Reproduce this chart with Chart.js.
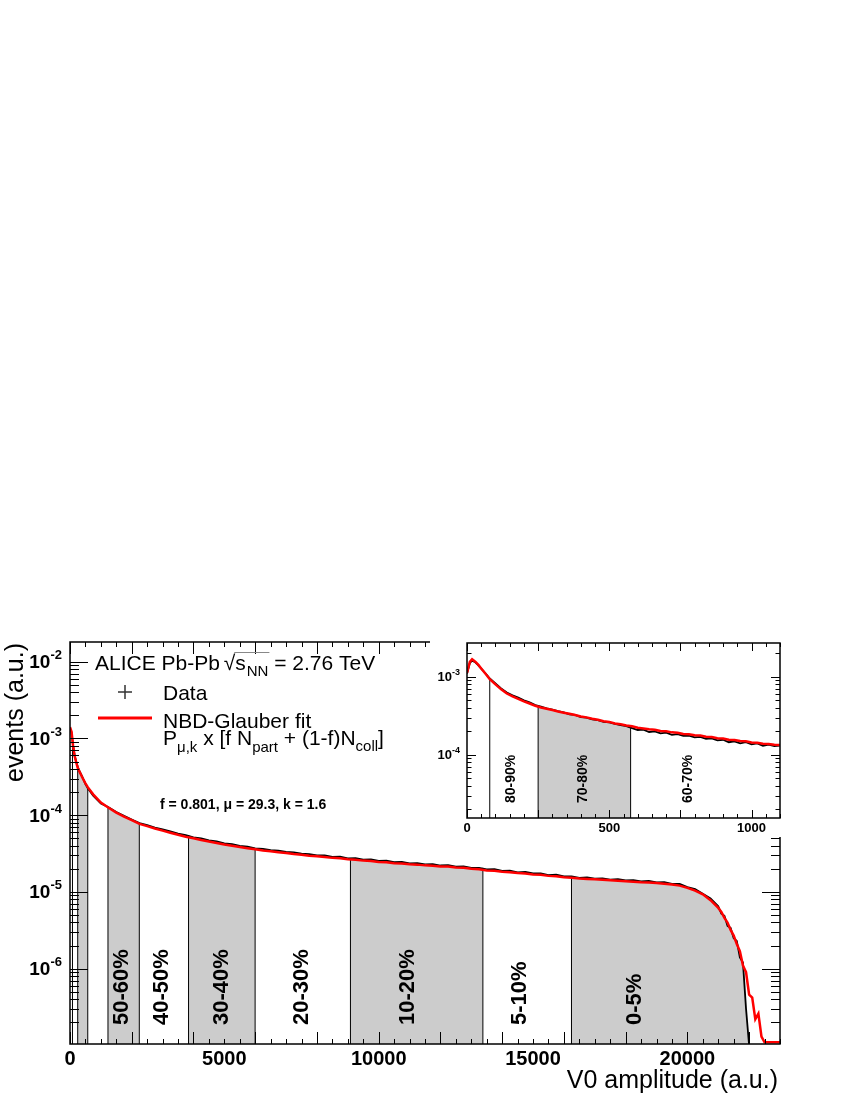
<!DOCTYPE html>
<html>
<head>
<meta charset="utf-8">
<script src="https://cdn.jsdelivr.net/npm/chart.js@4.4.1/dist/chart.umd.min.js"></script>
<style>
  body { margin: 0; background: #fff; }
  #wrap { position: relative; width: 850px; height: 1100px; }
  #main { position: absolute; left: 0; top: 0; }
  #inset { position: absolute; left: 430px; top: 632px; }
</style>
</head>
<body>
<div id="wrap">
  <canvas id="main" width="850" height="1100"></canvas>
  <canvas id="inset" width="355" height="205"></canvas>
</div>
<script>
// V0 amplitude bins, main plot
var amp = [
  0, 50, 100, 150, 200, 250, 300, 400, 500, 575,
  750, 1000, 1250, 1500, 1750, 2000, 2250, 2500, 2750, 3000,
  3250, 3500, 3750, 4000, 4250, 4500, 4750, 5000, 5250, 5500,
  5750, 6000, 6250, 6500, 6750, 7000, 7250, 7500, 7750, 8000,
  8250, 8500, 8750, 9000, 9250, 9500, 9750, 10000, 10250, 10500,
  10750, 11000, 11250, 11500, 11750, 12000, 12250, 12500, 12750, 13000,
  13250, 13500, 13750, 14000, 14250, 14500, 14750, 15000, 15250, 15500,
  15750, 16000, 16250, 16500, 16750, 17000, 17250, 17500, 17750, 18000,
  18250, 18500, 18750, 19000, 19250, 19500, 19750, 20000, 20250, 20500,
  20750, 21000, 21100, 21200, 21300, 21400, 21500, 21600, 21700, 21800,
  21900, 22000, 22100, 22200, 22300, 22400, 22500, 22750, 23000
];
var dataMain = [
  1.35e-3, 1.2e-3, 8.1e-4, 6.0e-4, 5.0e-4, 4.3e-4, 3.8e-4, 3.15e-4, 2.55e-4, 2.25e-4,
  1.8e-4, 1.42e-4, 1.27e-4, 1.1e-4, 9.8e-5, 8.8e-5, 7.9e-5, 7.45e-5, 6.9e-5, 6.55e-5,
  6.15e-5, 5.75e-5, 5.5e-5, 5.15e-5, 4.98e-5, 4.7e-5, 4.55e-5, 4.28e-5, 4.2e-5, 3.97e-5,
  3.9e-5, 3.7e-5, 3.64e-5, 3.5e-5, 3.45e-5, 3.32e-5, 3.28e-5, 3.15e-5, 3.12e-5, 3.0e-5,
  3.0e-5, 2.86e-5, 2.88e-5, 2.74e-5, 2.76e-5, 2.64e-5, 2.66e-5, 2.54e-5, 2.55e-5, 2.44e-5,
  2.47e-5, 2.36e-5, 2.38e-5, 2.28e-5, 2.31e-5, 2.21e-5, 2.24e-5, 2.14e-5, 2.16e-5, 2.06e-5,
  2.06e-5, 1.97e-5, 1.98e-5, 1.88e-5, 1.9e-5, 1.8e-5, 1.82e-5, 1.74e-5, 1.75e-5, 1.66e-5,
  1.68e-5, 1.59e-5, 1.6e-5, 1.53e-5, 1.55e-5, 1.49e-5, 1.5e-5, 1.45e-5, 1.47e-5, 1.41e-5,
  1.43e-5, 1.37e-5, 1.39e-5, 1.33e-5, 1.34e-5, 1.27e-5, 1.27e-5, 1.16e-5, 1.09e-5, 9.5e-6,
  8.2e-6, 6.5e-6, 5.2e-6, 4.9e-6, 3.6e-6, 3.4e-6, 2.5e-6, 2.3e-6, 1.4e-6, 1.2e-6,
  3.0e-7, 1.0e-7, null, null, null, null, null, null, null
];
var fitMain = [
  1.40e-3, 1.22e-3, 8.0e-4, 5.9e-4, 4.9e-4, 4.15e-4, 3.75e-4, 3.1e-4, 2.6e-4, 2.32e-4,
  1.87e-4, 1.46e-4, 1.25e-4, 1.08e-4, 9.6e-5, 8.6e-5, 7.7e-5, 7.2e-5, 6.7e-5, 6.3e-5,
  5.9e-5, 5.55e-5, 5.25e-5, 5.0e-5, 4.75e-5, 4.55e-5, 4.35e-5, 4.15e-5, 4.0e-5, 3.85e-5,
  3.72e-5, 3.6e-5, 3.46e-5, 3.4e-5, 3.28e-5, 3.22e-5, 3.12e-5, 3.06e-5, 2.97e-5, 2.91e-5,
  2.86e-5, 2.78e-5, 2.74e-5, 2.66e-5, 2.63e-5, 2.56e-5, 2.53e-5, 2.46e-5, 2.43e-5, 2.37e-5,
  2.35e-5, 2.29e-5, 2.27e-5, 2.22e-5, 2.2e-5, 2.15e-5, 2.14e-5, 2.08e-5, 2.06e-5, 2.0e-5,
  1.97e-5, 1.91e-5, 1.89e-5, 1.83e-5, 1.81e-5, 1.76e-5, 1.74e-5, 1.69e-5, 1.67e-5, 1.62e-5,
  1.6e-5, 1.55e-5, 1.53e-5, 1.5e-5, 1.48e-5, 1.46e-5, 1.44e-5, 1.42e-5, 1.4e-5, 1.38e-5,
  1.36e-5, 1.34e-5, 1.33e-5, 1.31e-5, 1.28e-5, 1.25e-5, 1.21e-5, 1.13e-5, 1.04e-5, 9.3e-6,
  7.8e-6, 6.2e-6, 5.5e-6, 4.6e-6, 4.0e-6, 3.2e-6, 2.7e-6, 2.1e-6, 1.7e-6, 1.1e-6,
  9.0e-7, 4.6e-7, 4.2e-7, 2.2e-7, 2.6e-7, 1.3e-7, 1.1e-7, 1.1e-7, 1.1e-7
];

// zoomed low-amplitude region (inset)
var ampInset = [
  0, 10, 18, 30, 40, 50, 60, 70, 80, 100,
  120, 140, 160, 180, 200, 220, 240, 260, 280, 300,
  320, 340, 360, 380, 400, 420, 440, 460, 480, 500,
  520, 540, 560, 580, 600, 620, 640, 660, 680, 700,
  720, 740, 760, 780, 800, 820, 840, 860, 880, 900,
  920, 940, 960, 980, 1000, 1020, 1040, 1060, 1080, 1100
];
var dataInset = [
  1.1e-3, 1.5e-3, 1.62e-3, 1.52e-3, 1.4e-3, 1.27e-3, 1.16e-3, 1.05e-3, 9.5e-4, 8.2e-4,
  7.1e-4, 6.3e-4, 5.8e-4, 5.4e-4, 5.0e-4, 4.7e-4, 4.35e-4, 4.15e-4, 3.95e-4, 3.8e-4,
  3.62e-4, 3.5e-4, 3.3e-4, 3.25e-4, 3.05e-4, 3.0e-4, 2.85e-4, 2.78e-4, 2.65e-4, 2.6e-4,
  2.5e-4, 2.4e-4, 2.33e-4, 2.2e-4, 2.08e-4, 2.1e-4, 1.96e-4, 2.0e-4, 1.88e-4, 1.92e-4,
  1.8e-4, 1.84e-4, 1.75e-4, 1.76e-4, 1.67e-4, 1.7e-4, 1.6e-4, 1.62e-4, 1.53e-4, 1.56e-4,
  1.45e-4, 1.49e-4, 1.4e-4, 1.45e-4, 1.36e-4, 1.4e-4, 1.3e-4, 1.35e-4, 1.29e-4, 1.31e-4
];
var fitInset = [
  1.12e-3, 1.55e-3, 1.68e-3, 1.55e-3, 1.42e-3, 1.28e-3, 1.15e-3, 1.04e-3, 9.3e-4, 8.0e-4,
  6.9e-4, 6.1e-4, 5.6e-4, 5.2e-4, 4.85e-4, 4.55e-4, 4.25e-4, 4.05e-4, 3.9e-4, 3.75e-4,
  3.6e-4, 3.47e-4, 3.35e-4, 3.24e-4, 3.1e-4, 3.02e-4, 2.9e-4, 2.82e-4, 2.7e-4, 2.64e-4,
  2.52e-4, 2.47e-4, 2.38e-4, 2.32e-4, 2.22e-4, 2.18e-4, 2.12e-4, 2.1e-4, 2.02e-4, 2.0e-4,
  1.94e-4, 1.92e-4, 1.85e-4, 1.84e-4, 1.78e-4, 1.77e-4, 1.71e-4, 1.69e-4, 1.63e-4, 1.62e-4,
  1.56e-4, 1.55e-4, 1.5e-4, 1.49e-4, 1.44e-4, 1.43e-4, 1.39e-4, 1.38e-4, 1.35e-4, 1.34e-4
];

// centrality classes
var centBounds = [80, 250, 575, 1230, 2245, 3840, 5997, 9085, 13375, 16245];
var shadedBands = [[250, 575], [1230, 2245], [3840, 5997], [9085, 13375], [16245, 23000]];
var centLabels = ['80-90%', '70-80%', '60-70%', '50-60%', '40-50%', '30-40%', '20-30%', '10-20%', '5-10%', '0-5%'];
var labelAmp = [156, 408, 777, 1675, 2970, 4914, 7506, 10959, 14577, 18302];

// axes
var xTicksMain = [0, 5000, 10000, 15000, 20000];
var yDecadesMain = [-2, -3, -4, -5, -6];
var xTicksInset = [0, 500, 1000];
var yDecadesInset = [-3, -4];

var FONT = '"Liberation Sans", Arial, Helvetica, sans-serif';

function pts(xv, yv) {
  return xv.map(function(a, i) { return {x: a, y: yv[i]}; });
}

// value of the bin nearest to b
function valueAt(xv, yv, b) {
  var best = null, dist = Infinity;
  for (var i = 0; i < xv.length; i++) {
    if (yv[i] == null) continue;
    var d = Math.abs(xv[i] - b);
    if (d < dist) { dist = d; best = yv[i]; }
  }
  return best;
}

function bandSets(xv, yv, xmax) {
  return shadedBands.filter(function(b) { return b[0] < xmax; }).map(function(b) {
    var lo = b[0], hi = b[1];
    var p = [{x: lo, y: valueAt(xv, yv, lo)}];
    xv.forEach(function(a, i) {
      if (a > lo && a < hi && yv[i] != null) p.push({x: a, y: yv[i]});
    });
    p.push({x: hi, y: valueAt(xv, yv, hi)});
    return {data: p, fill: 'start', backgroundColor: '#cccccc', borderColor: 'rgba(0,0,0,0)',
            borderWidth: 1, pointRadius: 0, order: 3};
  });
}

function boundSet(xv, yv, ymin, xmax) {
  var p = [];
  centBounds.filter(function(b) { return b < xmax; }).forEach(function(b) {
    p.push({x: b, y: ymin}, {x: b, y: valueAt(xv, yv, b)}, {x: b, y: null});
  });
  return {data: p, borderColor: '#000', borderWidth: 1, pointRadius: 0, fill: false, order: 2};
}

// ROOT-like frame with inward ticks, drawn from the chart scales
function rootAxes(o) {
  return {
    id: 'rootAxes',
    beforeDraw: function(chart) {
      if (!o.bg) return;
      var c = chart.ctx;
      c.save(); c.fillStyle = '#fff'; c.fillRect(0, 0, chart.width, chart.height); c.restore();
    },
    afterDatasetsDraw: function(chart) {
      var ctx = chart.ctx, a = chart.chartArea, x = chart.scales.x, y = chart.scales.y;
      ctx.save();
      ctx.strokeStyle = '#000';
      ctx.lineWidth = 1;
      ctx.beginPath();
      var n = Math.floor(x.max / o.xMinor);
      for (var k = 0; k <= n; k++) {
        var v = k * o.xMinor;
        var px = Math.round(x.getPixelForValue(v)) + 0.5;
        var len = (v % o.xMajor === 0) ? o.xMajorLen : o.xMinorLen;
        ctx.moveTo(px, a.bottom); ctx.lineTo(px, a.bottom - len);
        ctx.moveTo(px, a.top); ctx.lineTo(px, a.top + len);
      }
      for (var d = o.decLo; d <= o.decHi; d++) {
        for (var m = 1; m <= 9; m++) {
          var yv = m * Math.pow(10, d);
          if (yv < y.min || yv > y.max) continue;
          var py = Math.round(y.getPixelForValue(yv)) + 0.5;
          var l = m === 1 ? o.yMajorLen : o.yMinorLen;
          ctx.moveTo(a.left, py); ctx.lineTo(a.left + l, py);
          ctx.moveTo(a.right, py); ctx.lineTo(a.right - l, py);
        }
      }
      ctx.stroke();
      ctx.lineWidth = o.frameW;
      ctx.strokeRect(a.left, a.top, a.right - a.left, a.bottom - a.top);

      // tick labels
      ctx.fillStyle = '#000';
      ctx.textBaseline = 'alphabetic';
      ctx.font = 'bold ' + o.xFont + 'px ' + FONT;
      ctx.textAlign = 'center';
      o.xTicks.forEach(function(t) {
        ctx.fillText(String(t), x.getPixelForValue(t), a.bottom + o.xLabOff);
      });
      o.yDecades.forEach(function(dd) {
        var py = y.getPixelForValue(Math.pow(10, dd));
        var sup = '-' + Math.abs(dd);
        ctx.font = 'bold ' + o.supFont + 'px ' + FONT;
        var sw = ctx.measureText(sup).width;
        var sx = a.left - o.yLabGap - sw;
        ctx.textAlign = 'left';
        ctx.fillText(sup, sx, py + o.supOff);
        ctx.font = 'bold ' + o.yFont + 'px ' + FONT;
        ctx.textAlign = 'right';
        ctx.fillText('10', sx, py + o.yLabOff);
      });
      ctx.restore();
    }
  };
}

function centText(size, bottomOff, inInset) {
  return {
    id: 'centText',
    afterDatasetsDraw: function(chart) {
      var ctx = chart.ctx, a = chart.chartArea, x = chart.scales.x;
      ctx.save();
      ctx.fillStyle = '#000';
      ctx.font = 'bold ' + size + 'px ' + FONT;
      ctx.textAlign = 'left';
      ctx.textBaseline = 'middle';
      centLabels.forEach(function(t, i) {
        var inside = labelAmp[i] < x.max * 0.9;
        if (inInset ? !inside : labelAmp[i] < 1100) return;
        ctx.save();
        ctx.translate(x.getPixelForValue(labelAmp[i]), a.bottom - bottomOff);
        ctx.rotate(-Math.PI / 2);
        ctx.fillText(t, 0, 0);
        ctx.restore();
      });
      ctx.restore();
    }
  };
}

var legendText = {
  id: 'legendText',
  afterDraw: function(chart) {
    var ctx = chart.ctx;
    ctx.save();
    ctx.fillStyle = '#000';
    ctx.textAlign = 'left';
    ctx.textBaseline = 'alphabetic';

    // ALICE Pb-Pb sqrt(s_NN) = 2.76 TeV
    ctx.font = '21px ' + FONT;
    var cx = 95;
    ctx.fillText('ALICE Pb-Pb', cx, 670);
    cx += ctx.measureText('ALICE Pb-Pb ').width - 2;
    ctx.fillText('\u221A', cx, 670);
    cx += ctx.measureText('\u221A').width;
    var sx = cx;
    ctx.fillText('s', cx, 670);
    cx += ctx.measureText('s').width + 1;
    ctx.font = '15px ' + FONT;
    ctx.fillText('NN', cx, 676);
    cx += ctx.measureText('NN').width;
    ctx.strokeStyle = '#888';
    ctx.lineWidth = 1;
    ctx.beginPath(); ctx.moveTo(sx - 1, 652.5); ctx.lineTo(cx + 1, 652.5); ctx.stroke();
    ctx.font = '21px ' + FONT;
    ctx.fillText(' = 2.76 TeV', cx, 670);

    // Data marker
    ctx.strokeStyle = '#333';
    ctx.lineWidth = 1.5;
    ctx.beginPath();
    ctx.moveTo(118, 692); ctx.lineTo(132, 692);
    ctx.moveTo(125, 685); ctx.lineTo(125, 699);
    ctx.stroke();
    ctx.fillText('Data', 163, 700);

    // fit line
    ctx.strokeStyle = '#ff0000';
    ctx.lineWidth = 3;
    ctx.beginPath(); ctx.moveTo(98, 718); ctx.lineTo(152, 718); ctx.stroke();
    ctx.fillText('NBD-Glauber fit', 163, 728);

    // P_mu,k x [f N_part + (1-f)N_coll]
    var px = 163;
    function seg(t, size, dy) {
      ctx.font = size + 'px ' + FONT;
      ctx.fillText(t, px, 745 + dy);
      px += ctx.measureText(t).width;
    }
    seg('P', 21, 0); seg('\u03BC,k', 15, 7); seg(' x [f N', 21, 0); seg('part', 15, 7);
    seg(' + (1-f)N', 21, 0); seg('coll', 15, 6); seg(']', 21, 0);

    ctx.font = 'bold 14px ' + FONT;
    ctx.fillText('f = 0.801, \u03BC = 29.3, k = 1.6', 160, 809);

    // axis titles
    ctx.font = '25px ' + FONT;
    ctx.textAlign = 'right';
    ctx.fillText('V0 amplitude (a.u.)', 778, 1088);
    ctx.save();
    ctx.translate(23, 643);
    ctx.rotate(-Math.PI / 2);
    ctx.fillText('events (a.u.)', 0, 0);
    ctx.restore();
    ctx.restore();
  }
};

var yMinMain = 1.045e-7, yMaxMain = 0.01805;
var xMaxMain = 23000;

var mainSets = [
  {data: pts(amp, fitMain), borderColor: '#ff0000', borderWidth: 2.5, pointRadius: 0, fill: false, order: 0},
  {data: pts(amp, dataMain), borderColor: '#000', borderWidth: 1.8, pointRadius: 0, fill: false, order: 1},
  boundSet(amp, dataMain, yMinMain * 0.8, xMaxMain)
].concat(bandSets(amp, dataMain, xMaxMain));

new Chart(document.getElementById('main'), {
  type: 'line',
  data: {datasets: mainSets},
  options: {
    responsive: false,
    animation: false,
    layout: {padding: {left: 70, right: 70, top: 642, bottom: 56}},
    elements: {line: {tension: 0}},
    plugins: {legend: {display: false}, tooltip: {enabled: false}},
    scales: {
      x: {type: 'linear', min: 0, max: xMaxMain, display: false},
      y: {type: 'logarithmic', min: yMinMain, max: yMaxMain, display: false}
    }
  },
  plugins: [
    rootAxes({bg: false, frameW: 1.5, xMinor: 500, xMajor: 2000, xMajorLen: 12, xMinorLen: 5,
              decLo: -7, decHi: -2, yMajorLen: 18, yMinorLen: 9,
              xTicks: xTicksMain, xFont: 20, xLabOff: 21,
              yDecades: yDecadesMain, yFont: 19, supFont: 13, yLabGap: 8, yLabOff: 6.5, supOff: -2.5}),
    centText(22, 19, false),
    legendText
  ]
});

var yMinInset = 1.55e-5, yMaxInset = 2.71e-3;
var xMaxInset = 1100;

var insetSets = [
  {data: pts(ampInset, fitInset), borderColor: '#ff0000', borderWidth: 2.5, pointRadius: 0, fill: false, order: 0},
  {data: pts(ampInset, dataInset), borderColor: '#000', borderWidth: 1.8, pointRadius: 0, fill: false, order: 1},
  boundSet(ampInset, dataInset, yMinInset * 0.8, xMaxInset)
].concat(bandSets(ampInset, dataInset, xMaxInset));

new Chart(document.getElementById('inset'), {
  type: 'line',
  data: {datasets: insetSets},
  options: {
    responsive: false,
    animation: false,
    layout: {padding: {left: 37, right: 5, top: 11, bottom: 19}},
    elements: {line: {tension: 0}},
    plugins: {legend: {display: false}, tooltip: {enabled: false}},
    scales: {
      x: {type: 'linear', min: 0, max: xMaxInset, display: false},
      y: {type: 'logarithmic', min: yMinInset, max: yMaxInset, display: false}
    }
  },
  plugins: [
    rootAxes({bg: true, frameW: 1.5, xMinor: 50, xMajor: 250, xMajorLen: 8, xMinorLen: 4,
              decLo: -5, decHi: -3, yMajorLen: 9, yMinorLen: 4.5,
              xTicks: xTicksInset, xFont: 13, xLabOff: 14,
              yDecades: yDecadesInset, yFont: 13, supFont: 9, yLabGap: 7, yLabOff: 4.5, supOff: -2}),
    centText(14, 15, true)
  ]
});
</script>
</body>
</html>
